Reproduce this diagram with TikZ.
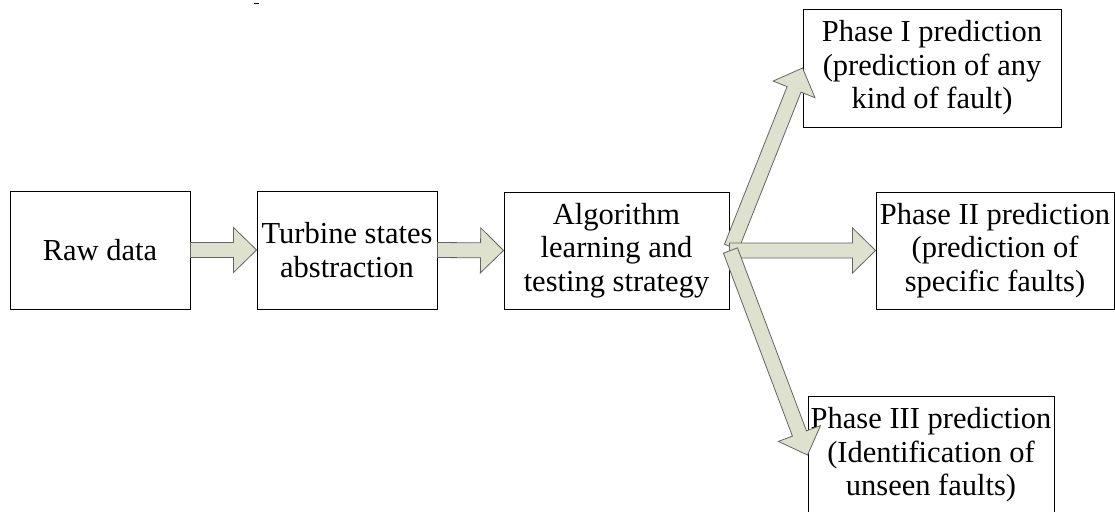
\documentclass[tikz,border=0pt]{standalone}
\usepackage{fontspec}
\setmainfont{Liberation Serif}
\usetikzlibrary{calc}
\definecolor{arrfill}{RGB}{221,225,205}
\definecolor{arrline}{RGB}{100,100,100}
\tikzset{
  box/.style={draw=black, line width=0.9pt, align=center, inner sep=0pt,
    font=\fontsize{30.5}{33.5}\selectfont},
  blockarrow/.style={draw=arrline, fill=arrfill, line width=0.8pt, line join=miter},
}
\newcommand\blockarr[2]{%
  \coordinate (ba-s) at (#1);
  \coordinate (ba-e) at (#2);
  \coordinate (ba-h) at ($(ba-e)!23pt!(ba-s)$);
  \draw[blockarrow] ($(ba-s)!7.5pt!90:(ba-e)$) -- ($(ba-h)!7.5pt!90:(ba-e)$)
    -- ($(ba-h)!22.5pt!90:(ba-e)$) -- (ba-e) -- ($(ba-h)!22.5pt!-90:(ba-e)$)
    -- ($(ba-h)!7.5pt!-90:(ba-e)$) -- ($(ba-s)!7.5pt!-90:(ba-e)$) -- cycle;
}
\begin{document}
\begin{tikzpicture}[x=1pt, y=-1pt]
\useasboundingbox (0,0) rectangle (1115,511);
\clip (0,0) rectangle (1115,511);
\fill[white] (0,0) rectangle (1115,511);

\node[box, minimum width=180pt, minimum height=118pt] (raw) at (100,250) {Raw data};
\node[box, minimum width=180pt, minimum height=118pt] (turb) at (347,250) {Turbine states\\abstraction};
\node[box, minimum width=225pt, minimum height=117pt] (alg) at (616.5,250.5) {Algorithm\\learning and\\testing strategy};
\node[box, minimum width=258pt, minimum height=118pt] (p1) at (932,68) {Phase I prediction\\(prediction of any\\kind of fault)};
\node[box, minimum width=238pt, minimum height=117pt] (p2) at (995,250.5) {Phase II prediction\\(prediction of\\specific faults)};
\node[box, minimum width=246pt, minimum height=118pt] (p3) at (931,455) {Phase III prediction\\(Identification of\\unseen faults)};

\blockarr{raw.east}{turb.west}
\blockarr{turb.east}{alg.west}
\blockarr{$(alg.east)+(2,-3.5)$}{p1.west}
\blockarr{alg.east}{p2.west}
\blockarr{$(alg.east)+(1,0)$}{p3.west}

\draw[line width=1pt] (254,4) -- (258.5,4);
\end{tikzpicture}
\end{document}
